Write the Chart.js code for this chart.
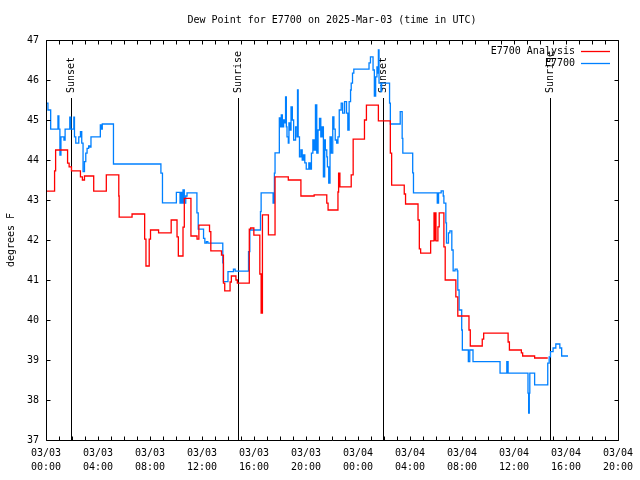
<!DOCTYPE html>
<html><head><meta charset="utf-8">
<script src="https://cdn.jsdelivr.net/npm/chart.js@4"></script>
<style>html,body{margin:0;padding:0;background:#fff}</style>
</head><body>
<canvas id="c" width="640" height="480"></canvas>
<script>
const FONT = '"DejaVu Sans Mono", "Liberation Mono", monospace';
const chartTitle = 'Dew Point for E7700 on 2025-Mar-03 (time in UTC)';
const yAxisTitle = 'degrees F';
const seriesNames = ['E7700 Analysis', 'E7700'];
const seriesColors = ['#ff0000', '#0080ff'];

// x tick labels every 4 hours (hours since 03/03 00:00 UTC)
const xTickDays  = ['03/03','03/03','03/03','03/03','03/03','03/03','03/04','03/04','03/04','03/04','03/04','03/04'];
const xTickTimes = ['00:00','04:00','08:00','12:00','16:00','20:00','00:00','04:00','08:00','12:00','16:00','20:00'];

// Sunrise / sunset markers
const eventLabels = ['Sunset','Sunrise','Sunset','Sunrise'];
const eventHours  = [1.93, 14.77, 25.92, 38.76];

// E7700 Analysis (red)
const redHours = [0,0.66,0.74,1.66,1.78,1.96,2.65,2.80,2.96,3.67,4.64,5.60,5.63,6.62,7.59,7.69,7.94,8.04,8.66,9.63,10.08,10.18,10.54,10.64,11.15,11.62,11.76,12.58,12.68,13.5,13.65,13.75,14.16,14.26,14.61,14.72,15.64,15.74,15.99,16.45,16.55,16.65,17.11,17.62,18.64,19.61,20.63,21.6,21.7,22.46,22.51,22.61,23.48,23.63,24.5,24.65,25.57,26.49,26.59,27.56,27.66,28.62,28.72,28.82,29.59,29.85,29.9,29.95,30.0,30.15,30.25,30.61,30.71,31.53,31.68,32.54,32.64,33.56,33.67,35.55,35.65,36.57,36.67,37.59,38.6];
const redValues = [43.22,43.73,44.25,43.92,43.83,43.73,43.58,43.5,43.6,43.22,43.63,43.1,42.57,42.65,42.02,41.35,42.02,42.25,42.18,42.5,42.08,41.6,42.32,43.04,42.1,42.02,42.37,42.21,41.73,41.62,40.92,40.73,40.95,41.1,41.0,40.92,42.27,42.3,42.12,41.15,40.17,42.63,42.13,43.58,43.5,43.1,43.13,42.92,42.75,43.2,43.67,43.33,43.63,44.52,45.0,45.37,44.98,44.17,43.37,43.15,42.9,42.5,41.78,41.67,41.98,42.68,42.0,42.68,41.98,42.33,42.68,41.83,41.0,40.58,40.1,39.75,39.35,39.52,39.67,39.45,39.25,39.18,39.1,39.05,39.05];

// E7700 observations (blue)
const blueHours = [0.05,0.15,0.36,0.92,0.99,1.07,1.15,1.38,1.47,1.83,1.91,2.14,2.19,2.29,2.52,2.65,2.75,2.85,2.96,3.06,3.16,3.28,3.36,3.46,4.18,4.24,4.33,5.19,8.84,8.96,10.03,10.31,10.39,10.47,10.54,10.64,10.75,10.85,11.61,11.71,12.12,12.22,12.34,12.45,13.6,13.65,14.0,14.42,14.55,15.58,15.68,16.5,16.55,17.47,17.57,17.62,17.95,18.03,18.1,18.18,18.28,18.33,18.43,18.49,18.54,18.64,18.69,18.79,18.85,18.95,19.05,19.2,19.31,19.35,19.4,19.5,19.61,19.71,19.81,19.91,20.02,20.22,20.32,20.42,20.53,20.63,20.73,20.83,20.93,21.04,21.14,21.24,21.34,21.44,21.49,21.6,21.65,21.75,21.85,21.95,22.06,22.15,22.25,22.36,22.46,22.56,22.71,22.82,22.97,23.12,23.22,23.32,23.43,23.48,23.58,23.68,24.85,24.96,25.16,25.26,25.36,25.46,25.52,25.57,25.62,25.77,25.82,26.43,26.49,27.25,27.4,27.45,28.21,28.27,30.1,30.2,30.4,30.56,30.61,30.76,30.81,30.96,31.07,31.22,31.32,31.47,31.63,31.68,31.78,31.98,32.03,32.49,32.6,32.85,34.93,35.45,35.55,37.08,37.13,37.18,37.22,37.59,38.6,38.71,38.81,39.01,39.22,39.53,39.67,40.16];
const blueValues = [45.42,45.25,44.77,45.1,44.77,44.12,44.58,44.5,44.77,45.07,44.77,45.07,44.58,44.42,44.58,44.71,44.42,43.71,43.96,44.17,44.29,44.35,44.32,44.58,44.88,44.77,44.9,43.9,43.67,42.93,43.19,42.92,43.19,42.92,43.25,42.92,43.1,43.18,42.68,42.27,42.04,41.92,41.96,41.92,41.43,40.96,41.21,41.27,41.22,41.71,42.25,42.71,43.18,42.92,43.67,44.18,45.05,44.83,45.13,44.83,45.0,44.93,45.58,44.83,44.58,44.42,44.93,44.75,45.33,45.0,44.5,44.83,44.58,45.75,44.58,44.08,44.25,44.0,44.13,43.93,43.77,43.93,43.77,44.17,44.5,44.25,45.38,44.17,44.75,45.04,44.58,44.83,43.58,44.5,44.25,44.08,43.83,43.42,44.58,44.17,45.08,44.77,44.5,44.42,44.58,45.25,45.42,45.17,45.46,45.17,44.75,45.46,45.75,45.92,46.17,46.27,46.43,46.58,46.25,45.6,46.08,46.33,46.17,46.75,45.92,45.71,45.92,45.42,44.9,45.21,44.54,44.17,43.68,43.18,42.92,43.18,43.23,43.1,42.92,42.43,41.92,42.18,42.23,41.75,41.23,41.27,41.23,40.75,40.25,39.75,39.25,38.96,39.25,38.96,38.67,38.96,38.67,38.17,37.67,38.17,38.67,38.38,38.92,39.08,39.21,39.3,39.4,39.3,39.1,39.1];

const toXY = (xs, ys) => xs.map((x, i) => ({x: x, y: ys[i]}));

const gnuplotPlugin = {
  id: 'gnuplotDecor',
  beforeDatasetsDraw(chart) {
    const {ctx, chartArea: a, scales: {x, y}} = chart;
    ctx.save();
    ctx.strokeStyle = '#000';
    ctx.lineWidth = 1;
    ctx.fillStyle = '#000';
    ctx.font = '10px ' + FONT;
    const yTop = Math.round(y.getPixelForValue(45.55));
    eventHours.forEach((h, i) => {
      const px = Math.round(x.getPixelForValue(h)) + 0.5;
      ctx.beginPath();
      ctx.moveTo(px, a.bottom);
      ctx.lineTo(px, yTop);
      ctx.stroke();
      ctx.save();
      ctx.translate(px, yTop - 5);
      ctx.rotate(-Math.PI / 2);
      ctx.textAlign = 'left';
      ctx.textBaseline = 'middle';
      ctx.fillText(eventLabels[i], 0, 0);
      ctx.restore();
    });
    ctx.restore();
  },
  afterDraw(chart) {
    const {ctx, chartArea: a, scales: {x, y}} = chart;
    ctx.save();
    ctx.strokeStyle = '#000';
    ctx.lineWidth = 1;
    const L = Math.round(a.left) + 0.5, R = Math.round(a.right) + 0.5;
    const T = Math.round(a.top) + 0.5, B = Math.round(a.bottom) + 0.5;
    ctx.beginPath();
    ctx.rect(L, T, R - L, B - T);
    for (let h = 0; h <= 44; h++) {
      const px = Math.round(x.getPixelForValue(h)) + 0.5;
      ctx.moveTo(px, B); ctx.lineTo(px, B - 4);
      ctx.moveTo(px, T); ctx.lineTo(px, T + 4);
    }
    for (let v = 37; v <= 47; v++) {
      const py = Math.round(y.getPixelForValue(v)) + 0.5;
      ctx.moveTo(L, py); ctx.lineTo(L + 4, py);
      ctx.moveTo(R, py); ctx.lineTo(R - 4, py);
    }
    ctx.stroke();
    ctx.fillStyle = '#000';
    ctx.font = '10px ' + FONT;
    ctx.textAlign = 'center';
    ctx.textBaseline = 'middle';
    ctx.fillText(chartTitle, (a.left + a.right) / 2, 20);
    ctx.save();
    ctx.translate(11, (a.top + a.bottom) / 2);
    ctx.rotate(-Math.PI / 2);
    ctx.fillText(yAxisTitle, 0, 0);
    ctx.restore();
    ctx.textAlign = 'right';
    seriesNames.forEach((n, i) => {
      const ly = 51 + i * 12;
      ctx.fillStyle = '#000';
      ctx.fillText(n, 575, ly);
      ctx.strokeStyle = seriesColors[i];
      ctx.lineWidth = 1.3;
      ctx.beginPath();
      ctx.moveTo(581, Math.round(ly) + 0.5);
      ctx.lineTo(610, Math.round(ly) + 0.5);
      ctx.stroke();
    });
    ctx.restore();
  }
};

new Chart(document.getElementById('c'), {
  type: 'line',
  data: {
    datasets: [
      {label: seriesNames[0], data: toXY(redHours, redValues), borderColor: seriesColors[0], borderWidth: 1.3, stepped: 'before', pointRadius: 0, fill: false},
      {label: seriesNames[1], data: toXY(blueHours, blueValues), borderColor: seriesColors[1], borderWidth: 1.3, stepped: 'before', pointRadius: 0, fill: false}
    ]
  },
  options: {
    responsive: false,
    animation: false,
    events: [],
    layout: {padding: {left: 0, top: 40, right: 18, bottom: 0}},
    plugins: {legend: {display: false}, title: {display: false}, tooltip: {enabled: false}},
    scales: {
      x: {
        type: 'linear', min: 0, max: 44,
        grid: {display: false, drawTicks: false},
        border: {display: false},
        afterFit: s => { s.height = 40; },
        ticks: {
          stepSize: 1, autoSkip: false, maxRotation: 0, minRotation: 0, padding: 7,
          color: '#000', font: {family: FONT, size: 10, lineHeight: 1.35},
          callback: v => (v % 4 === 0) ? [xTickDays[v / 4], xTickTimes[v / 4]] : ''
        }
      },
      y: {
        min: 37, max: 47,
        grid: {display: false, drawTicks: false},
        border: {display: false},
        afterFit: s => { s.width = 46; },
        ticks: {stepSize: 1, padding: 7, color: '#000', font: {family: FONT, size: 10}}
      }
    }
  },
  plugins: [gnuplotPlugin]
});
</script>
</body></html>
